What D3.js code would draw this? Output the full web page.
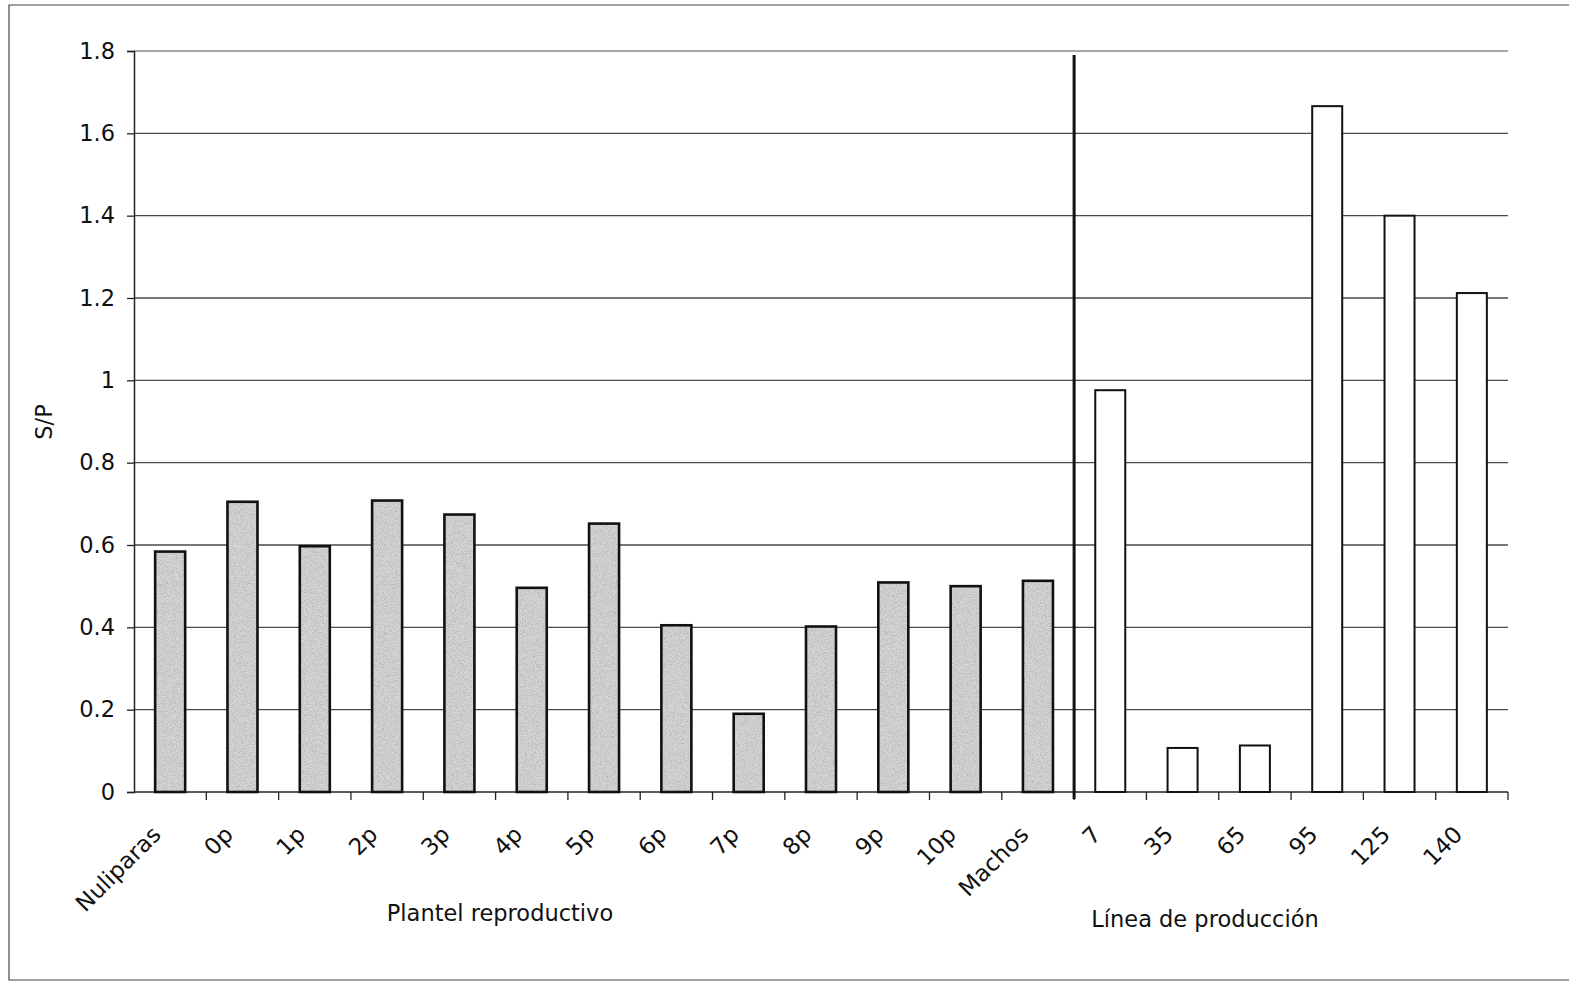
<!DOCTYPE html>
<html>
<head>
<meta charset="utf-8">
<script src="https://cdn.jsdelivr.net/npm/d3@7"></script>
<style>
  html, body { margin: 0; padding: 0; background: #fff; }
  svg { display: block; }
  text { font-family: "DejaVu Sans", Verdana, sans-serif; fill: #111; }
</style>
</head>
<body>
<svg id="chart" width="1569" height="984"></svg>
<script>
// S/P ratio per animal group
const plantelCategories = ["Nuliparas", "0p", "1p", "2p", "3p", "4p", "5p", "6p", "7p", "8p", "9p", "10p", "Machos"];
const plantelValues     = [0.584, 0.705, 0.597, 0.708, 0.674, 0.496, 0.652, 0.405, 0.19, 0.402, 0.509, 0.50, 0.513];

const lineaCategories = ["7", "35", "65", "95", "125", "140"];
const lineaValues     = [0.976, 0.107, 0.113, 1.666, 1.40, 1.212];

const yTickLabels = ["0", "0.2", "0.4", "0.6", "0.8", "1", "1.2", "1.4", "1.6", "1.8"];

const groupTitles = ["Plantel reproductivo", "Línea de producción"];
const yTitle = "S/P";

const rows = [
  ...plantelCategories.map((c, i) => ({ cat: c, value: plantelValues[i], group: 0 })),
  ...lineaCategories.map((c, i) => ({ cat: c, value: lineaValues[i], group: 1 }))
];

const svg = d3.select("#chart");
const plot = { left: 134, right: 1508, top: 51, bottom: 792 };

const x = d3.scaleBand()
  .domain(rows.map(d => d.cat))
  .range([plot.left, plot.right])
  .paddingInner(0.585)
  .paddingOuter(0.2925);

const y = d3.scaleLinear().domain([0, 1.8]).range([plot.bottom, plot.top]);

const step = x.step();
const x0 = x.range()[0];
const boundary = i => x0 + i * step;

// fine speckle for the shaded bars
const defs = svg.append("defs");
const f = defs.append("filter").attr("id", "grain")
  .attr("x", 0).attr("y", 0).attr("width", 1).attr("height", 1);
f.append("feTurbulence").attr("type", "fractalNoise").attr("baseFrequency", 1.1)
  .attr("numOctaves", 2).attr("seed", 7).attr("result", "noise");
f.append("feColorMatrix").attr("in", "noise").attr("type", "matrix")
  .attr("values", "0 0 0 0 0.45  0 0 0 0 0.45  0 0 0 0 0.45  2.6 0 0 0 -1.05").attr("result", "dots");
f.append("feComposite").attr("in", "dots").attr("in2", "SourceGraphic").attr("operator", "in").attr("result", "clipped");
const m = f.append("feMerge");
m.append("feMergeNode").attr("in", "SourceGraphic");
m.append("feMergeNode").attr("in", "clipped");

// outer frame
svg.append("path")
  .attr("d", "M1575,5 H9 V980 H1575")
  .attr("fill", "none").attr("stroke", "#444").attr("stroke-width", 1.2);

// horizontal gridlines
const tickValues = yTickLabels.map(Number);
svg.append("g").selectAll("line")
  .data(tickValues.filter(v => v > 0))
  .join("line")
  .attr("x1", plot.left).attr("x2", plot.right)
  .attr("y1", d => y(d)).attr("y2", d => y(d))
  .attr("stroke", d => d === 1.8 ? "#8a8a8a" : "#4a4a4a")
  .attr("stroke-width", 1.3);

// y axis
const yAxis = d3.axisLeft(y)
  .tickValues(tickValues)
  .tickFormat((d, i) => yTickLabels[i])
  .tickSize(7)
  .tickPadding(12);
const gy = svg.append("g").attr("transform", `translate(${plot.left},0)`).call(yAxis);
gy.select(".domain").attr("stroke", "#222").attr("stroke-width", 1.5);
gy.selectAll(".tick line").attr("stroke", "#222").attr("stroke-width", 1.3);
gy.selectAll(".tick text").style("font-size", "22.5px").attr("fill", "#111")
  .style("font-family", "'DejaVu Sans', Verdana, sans-serif");

// x axis line and boundary ticks
svg.append("line")
  .attr("x1", plot.left).attr("x2", plot.right)
  .attr("y1", plot.bottom).attr("y2", plot.bottom)
  .attr("stroke", "#222").attr("stroke-width", 1.5);
svg.append("g").selectAll("line")
  .data(d3.range(1, rows.length + 1))
  .join("line")
  .attr("x1", i => boundary(i)).attr("x2", i => boundary(i))
  .attr("y1", plot.bottom).attr("y2", plot.bottom + 8)
  .attr("stroke", "#222").attr("stroke-width", 1.3);

// bars
const bars = svg.append("g");
bars.selectAll("rect.fill")
  .data(rows.filter(d => d.group === 0))
  .join("rect")
  .attr("class", "fill")
  .attr("x", d => x(d.cat))
  .attr("y", d => y(d.value))
  .attr("width", x.bandwidth())
  .attr("height", d => y(0) - y(d.value))
  .attr("fill", "#d6d6d6")
  .attr("filter", "url(#grain)");
bars.selectAll("rect.outline")
  .data(rows)
  .join("rect")
  .attr("class", "outline")
  .attr("x", d => x(d.cat))
  .attr("y", d => y(d.value))
  .attr("width", x.bandwidth())
  .attr("height", d => y(0) - y(d.value))
  .attr("fill", d => d.group === 0 ? "none" : "#fff")
  .attr("stroke", "#111")
  .attr("stroke-width", d => d.group === 0 ? 2.6 : 2);

// separator between the two groups
const sepX = boundary(plantelCategories.length);
svg.append("line")
  .attr("x1", sepX).attr("x2", sepX)
  .attr("y1", 55).attr("y2", plot.bottom + 7)
  .attr("stroke", "#111").attr("stroke-width", 3);

// category labels
svg.append("g").selectAll("text")
  .data(rows)
  .join("text")
  .attr("transform", d => `translate(${x(d.cat) + x.bandwidth() / 2 - 8},${plot.bottom + 44}) rotate(-45)`)
  .attr("text-anchor", "end")
  .style("font-size", "23px")
  .text(d => d.cat);

// group titles
svg.append("text").attr("x", 500).attr("y", 921).attr("text-anchor", "middle")
  .style("font-size", "22.5px").text(groupTitles[0]);
svg.append("text").attr("x", 1205).attr("y", 927).attr("text-anchor", "middle")
  .style("font-size", "22.5px").text(groupTitles[1]);

// y axis title
svg.append("text")
  .attr("transform", "translate(52,422) rotate(-90)")
  .attr("text-anchor", "middle")
  .style("font-size", "22.5px")
  .text(yTitle);
</script>
</body>
</html>
